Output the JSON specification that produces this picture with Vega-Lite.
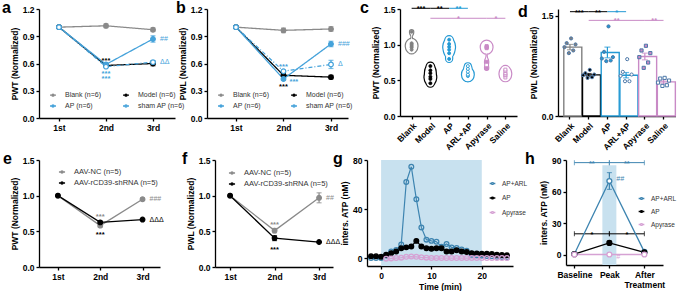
{
"$schema": "https://vega.github.io/schema/vega-lite/v6.json",
"padding": {"left": 2, "top": 0, "right": 0, "bottom": 0},
"background": "white",
"config": {
  "font": "Liberation Sans",
  "view": {"stroke": null},
  "axis": {"grid": false, "domainColor": "#000", "domainWidth": 1.3, "tickColor": "#000", "tickWidth": 1.3, "tickSize": 3, "labelFont": "Liberation Sans", "labelFontSize": 8.5, "labelFontWeight": "bold", "labelColor": "#000", "labelPadding": 2, "titleFont": "Liberation Sans", "titleFontSize": 8.5, "titleFontWeight": "bold", "titleColor": "#000", "titlePadding": 3, "labelOverlap": false, "labelFlush": false},
  "title": {"font": "Liberation Sans", "fontSize": 16, "fontWeight": "bold", "anchor": "start", "frame": "group", "color": "#000", "offset": -11},
  "legend": {"labelFont": "Liberation Sans", "labelFontSize": 7, "labelColor": "#333", "padding": 0, "rowPadding": 0, "symbolStrokeWidth": 1.3, "labelOffset": 3},
  "text": {"font": "Liberation Sans"}
},
"datasets": {
  "a": [
    {"g":"Blank","t":"1st","v":1.0},{"g":"Blank","t":"2nd","v":1.015,"lo":0.995,"hi":1.035},{"g":"Blank","t":"3rd","v":0.972,"lo":0.952,"hi":0.992},
    {"g":"Model","t":"1st","v":1.0},{"g":"Model","t":"2nd","v":0.578,"lo":0.565,"hi":0.591},{"g":"Model","t":"3rd","v":0.6,"lo":0.575,"hi":0.625},
    {"g":"AP","t":"1st","v":1.0},{"g":"AP","t":"2nd","v":0.59,"lo":0.578,"hi":0.602},{"g":"AP","t":"3rd","v":0.87,"lo":0.835,"hi":0.905},
    {"g":"sham AP","t":"1st","v":1.0},{"g":"sham AP","t":"2nd","v":0.565},{"g":"sham AP","t":"3rd","v":0.615,"lo":0.6,"hi":0.63}
  ],
  "a_s": [{"g":"Model","t":"2nd","v":0.655,"s":"***"},{"g":"AP","t":"2nd","v":0.505,"s":"***"},{"g":"AP","t":"2nd","v":0.45,"s":"***"}],
  "a_r": [{"g":"AP","t":"3rd","v":0.87,"s":"##"},{"g":"sham AP","t":"3rd","v":0.615,"s":"ΔΔ"}],
  "b": [
    {"g":"Blank","t":"1st","v":1.0},{"g":"Blank","t":"2nd","v":0.965,"lo":0.94,"hi":0.99},{"g":"Blank","t":"3rd","v":0.98,"lo":0.955,"hi":1.005},
    {"g":"Model","t":"1st","v":1.0},{"g":"Model","t":"2nd","v":0.47,"lo":0.455,"hi":0.485},{"g":"Model","t":"3rd","v":0.45,"lo":0.43,"hi":0.47},
    {"g":"AP","t":"1st","v":1.0},{"g":"AP","t":"2nd","v":0.43,"lo":0.415,"hi":0.445},{"g":"AP","t":"3rd","v":0.815,"lo":0.785,"hi":0.845},
    {"g":"sham AP","t":"1st","v":1.0},{"g":"sham AP","t":"2nd","v":0.515,"lo":0.5,"hi":0.53},{"g":"sham AP","t":"3rd","v":0.59,"lo":0.545,"hi":0.635}
  ],
  "b_s": [{"g":"AP","t":"2nd","v":0.585,"s":"***"},{"g":"Model","t":"2nd","v":0.36,"s":"***"}],
  "b_sr": [{"g":"AP","t":"2nd","v":0.415,"s":"***"}],
  "b_r": [{"g":"AP","t":"3rd","v":0.815,"s":"###"},{"g":"sham AP","t":"3rd","v":0.59,"s":"Δ"}],
  "c": [
    {"g":"Blank","v":0.93},{"g":"Blank","v":0.96},{"g":"Blank","v":0.98},{"g":"Blank","v":1.0},{"g":"Blank","v":1.02},{"g":"Blank","v":1.18},
    {"g":"Model","v":0.46},{"g":"Model","v":0.52},{"g":"Model","v":0.55},{"g":"Model","v":0.6},{"g":"Model","v":0.64},{"g":"Model","v":0.7},
    {"g":"AP","v":0.8},{"g":"AP","v":0.88},{"g":"AP","v":0.93},{"g":"AP","v":0.97},{"g":"AP","v":1.01},{"g":"AP","v":1.07},
    {"g":"ARL+AP","v":0.56},{"g":"ARL+AP","v":0.57},{"g":"ARL+AP","v":0.58},{"g":"ARL+AP","v":0.62},{"g":"ARL+AP","v":0.66},{"g":"ARL+AP","v":0.7},
    {"g":"Apyrase","v":0.67},{"g":"Apyrase","v":0.76},{"g":"Apyrase","v":0.95},{"g":"Apyrase","v":0.96},{"g":"Apyrase","v":0.97},{"g":"Apyrase","v":0.98},
    {"g":"Saline","v":0.54},{"g":"Saline","v":0.57},{"g":"Saline","v":0.58},{"g":"Saline","v":0.6},{"g":"Saline","v":0.63},{"g":"Saline","v":0.65}
  ],
  "c_br": [
    {"a":"Blank","b":"Model","m":"Blank","y":1.51,"s":"***","ref":"Model"},
    {"a":"Model","b":"AP","m":"Model","y":1.51,"s":"**","ref":"Model"},
    {"a":"AP","b":"ARL+AP","m":"AP","y":1.51,"s":"**","ref":"AP"},
    {"a":"Model","b":"Apyrase","m":"AP","y":1.37,"s":"*","ref":"Apyrase"},
    {"a":"Apyrase","b":"Saline","m":"Apyrase","y":1.37,"s":"*","ref":"Apyrase"}
  ],
  "d_bar": [
    {"g":"Blank","m":1.03,"lo":0.99,"hi":1.07},{"g":"Model","m":0.615,"lo":0.595,"hi":0.635},{"g":"AP","m":0.95,"lo":0.87,"hi":1.03},
    {"g":"ARL+AP","m":0.61,"lo":0.57,"hi":0.65},{"g":"Apyrase","m":0.89,"lo":0.84,"hi":0.94},{"g":"Saline","m":0.51,"lo":0.48,"hi":0.54}
  ],
  "d_pts": [
    {"g":"Blank","r":"r1","v":1.16},{"g":"Blank","r":"r2","v":1.09},{"g":"Blank","r":"r3","v":1.07},{"g":"Blank","r":"r4","v":1.03},{"g":"Blank","r":"r5","v":0.98},{"g":"Blank","r":"r6","v":0.94},
    {"g":"Model","r":"r1","v":0.69},{"g":"Model","r":"r2","v":0.64},{"g":"Model","r":"r3","v":0.62},{"g":"Model","r":"r4","v":0.61},{"g":"Model","r":"r5","v":0.58},{"g":"Model","r":"r6","v":0.57},
    {"g":"AP","r":"r1","v":1.34},{"g":"AP","r":"r2","v":0.96},{"g":"AP","r":"r3","v":0.88},{"g":"AP","r":"r4","v":0.86},{"g":"AP","r":"r5","v":0.83},{"g":"AP","r":"r6","v":0.82},
    {"g":"ARL+AP","r":"r1","v":0.85},{"g":"ARL+AP","r":"r2","v":0.66},{"g":"ARL+AP","r":"r3","v":0.62},{"g":"ARL+AP","r":"r4","v":0.6},{"g":"ARL+AP","r":"r5","v":0.52},{"g":"ARL+AP","r":"r6","v":0.52},
    {"g":"Apyrase","r":"r1","v":1.05},{"g":"Apyrase","r":"r2","v":0.98},{"g":"Apyrase","r":"r3","v":0.94},{"g":"Apyrase","r":"r4","v":0.88},{"g":"Apyrase","r":"r5","v":0.8},{"g":"Apyrase","r":"r6","v":0.72},
    {"g":"Saline","r":"r1","v":0.57},{"g":"Saline","r":"r2","v":0.56},{"g":"Saline","r":"r3","v":0.53},{"g":"Saline","r":"r4","v":0.5},{"g":"Saline","r":"r5","v":0.46},{"g":"Saline","r":"r6","v":0.45}
  ],
  "d_br": [
    {"a":"Blank","b":"Model","m":"Blank","y":1.56,"s":"***","ref":"Model"},
    {"a":"Model","b":"AP","m":"Model","y":1.56,"s":"**","ref":"Model"},
    {"a":"AP","b":"ARL+AP","m":"AP","y":1.56,"s":"*","ref":"AP"},
    {"a":"Model","b":"Apyrase","m":"AP","y":1.43,"s":"**","ref":"Apyrase"},
    {"a":"Apyrase","b":"Saline","m":"Apyrase","y":1.43,"s":"**","ref":"Apyrase"}
  ],
  "e": [
    {"g":"AAV-NC","t":"1st","v":1.0},{"g":"AAV-NC","t":"2nd","v":0.58,"lo":0.56,"hi":0.6},{"g":"AAV-NC","t":"3rd","v":0.95,"lo":0.93,"hi":0.97},
    {"g":"AAV-rCD39-shRNA","t":"1st","v":1.0},{"g":"AAV-rCD39-shRNA","t":"2nd","v":0.625,"lo":0.61,"hi":0.64},{"g":"AAV-rCD39-shRNA","t":"3rd","v":0.665}
  ],
  "e_s": [{"g":"AAV-NC","t":"2nd","v":0.725,"s":"***"},{"g":"AAV-rCD39-shRNA","t":"2nd","v":0.47,"s":"***"}],
  "e_r": [{"g":"AAV-NC","t":"3rd","v":0.95,"s":"###"},{"g":"AAV-rCD39-shRNA","t":"3rd","v":0.665,"s":"ΔΔΔ"}],
  "f": [
    {"g":"AAV-NC","t":"1st","v":1.0},{"g":"AAV-NC","t":"2nd","v":0.51,"lo":0.48,"hi":0.54},{"g":"AAV-NC","t":"3rd","v":0.97,"lo":0.9,"hi":1.04},
    {"g":"AAV-rCD39-shRNA","t":"1st","v":1.0},{"g":"AAV-rCD39-shRNA","t":"2nd","v":0.405,"lo":0.37,"hi":0.44},{"g":"AAV-rCD39-shRNA","t":"3rd","v":0.35}
  ],
  "f_s": [{"g":"AAV-NC","t":"2nd","v":0.62,"s":"***"},{"g":"AAV-rCD39-shRNA","t":"2nd","v":0.26,"s":"***"}],
  "f_r": [{"g":"AAV-NC","t":"3rd","v":0.97,"s":"##"},{"g":"AAV-rCD39-shRNA","t":"3rd","v":0.35,"s":"ΔΔΔ"}],
  "g_shade": [{"t0":0,"t1":20,"y0":-6.5,"y1":80}],
  "g": [
    {"g":"AP+ARL","t":-2,"v":0},{"g":"AP+ARL","t":-1,"v":0},{"g":"AP+ARL","t":0,"v":0},{"g":"AP+ARL","t":1,"v":2},{"g":"AP+ARL","t":2,"v":5.4},{"g":"AP+ARL","t":3,"v":6.5},{"g":"AP+ARL","t":4,"v":11},{"g":"AP+ARL","t":5,"v":62},{"g":"AP+ARL","t":6,"v":74.5},{"g":"AP+ARL","t":7,"v":48},{"g":"AP+ARL","t":8,"v":25},{"g":"AP+ARL","t":9,"v":15},{"g":"AP+ARL","t":10,"v":14},{"g":"AP+ARL","t":11,"v":13.3},{"g":"AP+ARL","t":12,"v":9.3},{"g":"AP+ARL","t":13,"v":11.4},{"g":"AP+ARL","t":14,"v":8.7},{"g":"AP+ARL","t":15,"v":8.2},{"g":"AP+ARL","t":16,"v":7},{"g":"AP+ARL","t":17,"v":6},{"g":"AP+ARL","t":18,"v":2.7},{"g":"AP+ARL","t":19,"v":2.2},{"g":"AP+ARL","t":20,"v":2},{"g":"AP+ARL","t":21,"v":1.6},{"g":"AP+ARL","t":22,"v":1.4},{"g":"AP+ARL","t":23,"v":1},{"g":"AP+ARL","t":24,"v":0.8},{"g":"AP+ARL","t":25,"v":0.5},
    {"g":"AP","t":-2,"v":1.4},{"g":"AP","t":-1,"v":1.4},{"g":"AP","t":0,"v":1},{"g":"AP","t":1,"v":2.7},{"g":"AP","t":2,"v":4},{"g":"AP","t":3,"v":5.4},{"g":"AP","t":4,"v":8},{"g":"AP","t":5,"v":8.7},{"g":"AP","t":6,"v":9.5},{"g":"AP","t":7,"v":14},{"g":"AP","t":8,"v":9.5},{"g":"AP","t":9,"v":8},{"g":"AP","t":10,"v":7.6},{"g":"AP","t":11,"v":7.9},{"g":"AP","t":12,"v":8},{"g":"AP","t":13,"v":5.4},{"g":"AP","t":14,"v":5.4},{"g":"AP","t":15,"v":6.3},{"g":"AP","t":16,"v":5.4},{"g":"AP","t":17,"v":4.9},{"g":"AP","t":18,"v":4},{"g":"AP","t":19,"v":3.8},{"g":"AP","t":20,"v":3.5},{"g":"AP","t":21,"v":3.5},{"g":"AP","t":22,"v":3.3},{"g":"AP","t":23,"v":2.7},{"g":"AP","t":24,"v":2.5},{"g":"AP","t":25,"v":2.2},
    {"g":"Apyrase","t":1,"v":-0.5},{"g":"Apyrase","t":2,"v":-0.3},{"g":"Apyrase","t":3,"v":0},{"g":"Apyrase","t":4,"v":0.3},{"g":"Apyrase","t":5,"v":1},{"g":"Apyrase","t":6,"v":1.2},{"g":"Apyrase","t":7,"v":1},{"g":"Apyrase","t":8,"v":0.6},{"g":"Apyrase","t":9,"v":0.3},{"g":"Apyrase","t":10,"v":0},{"g":"Apyrase","t":11,"v":0},{"g":"Apyrase","t":12,"v":0},{"g":"Apyrase","t":13,"v":0},{"g":"Apyrase","t":14,"v":0},{"g":"Apyrase","t":15,"v":0},{"g":"Apyrase","t":16,"v":0},{"g":"Apyrase","t":17,"v":0},{"g":"Apyrase","t":18,"v":0},{"g":"Apyrase","t":19,"v":0},{"g":"Apyrase","t":20,"v":0},{"g":"Apyrase","t":21,"v":0},{"g":"Apyrase","t":22,"v":0},{"g":"Apyrase","t":23,"v":0},{"g":"Apyrase","t":24,"v":0},{"g":"Apyrase","t":25,"v":0}
  ],
  "h": [
    {"g":"AP+ARL","x":"Baseline","k":1,"v":0.5},{"g":"AP+ARL","x":"Peak","k":2,"v":70,"lo":62,"hi":78},{"g":"AP+ARL","x":"After Treatment","k":3,"v":2.5,"lo":1.5,"hi":3.5},
    {"g":"AP","x":"Baseline","k":1,"v":0.3},{"g":"AP","x":"Peak","k":2,"v":11,"lo":9.3,"hi":12.7},{"g":"AP","x":"After Treatment","k":3,"v":2},
    {"g":"Apyrase","x":"Baseline","k":1,"v":0},{"g":"Apyrase","x":"Peak","k":2,"v":0},{"g":"Apyrase","x":"After Treatment","k":3,"v":0}
  ],
  "h_shade": [{"x":"Peak","lo":-10,"hi":85}],
  "h_br": [
    {"a":"Baseline","b":"Peak","m":"Baseline","y":87.5,"s":"**","g":"AP+ARL"},
    {"a":"Peak","b":"After Treatment","m":"Peak","y":87.5,"s":"**","g":"AP+ARL"},
    {"a":"Baseline","b":"Peak","m":"Baseline","y":19.7,"s":"*","g":"AP"},
    {"a":"Peak","b":"After Treatment","m":"Peak","y":19.7,"s":"*","g":"AP"}
  ],
  "h_r": [{"g":"AP+ARL","x":"Peak","v":72,"s":"##"},{"g":"Apyrase","x":"Peak","v":-2,"s":"#"}],
  "empty": []
},
"spacing": -1,
"resolve": {"scale": {"color": "independent", "fill": "independent", "stroke": "independent", "shape": "independent", "strokeDash": "independent", "size": "independent", "xOffset": "independent"}},
"vconcat": [
 {"bounds": "flush", "spacing": 0,
  "resolve": {"scale": {"color": "independent", "fill": "independent", "stroke": "independent", "shape": "independent", "strokeDash": "independent", "size": "independent", "xOffset": "independent"}},
  "hconcat": [
   {
    "width": 136, "height": 109,
    "title": {"text": "a", "dx": -37},
    "encoding": {
      "x": {"field": "t", "type": "nominal", "scale": {"type": "point", "padding": 0.447, "align": 0.476}, "axis": {"title": null, "labelAngle": 0}},
      "y": {"field": "v", "type": "quantitative", "scale": {"domain": [0, 1.2]}, "axis": {"values": [0, 0.3, 0.6, 0.9, 1.2], "format": ".1f"}, "title": "PWT (Normalized)"}
    },
    "layer": [
      {"data": {"name": "a"}, "mark": {"type": "line", "strokeWidth": 1.3},
       "encoding": {"color": {"field": "g", "type": "nominal", "scale": {"domain": ["Model","Blank","AP","sham AP"], "range": ["#000000","#8a8a8a","#45a2da","#45a2da"]}, "legend": null},
                    "strokeDash": {"field": "g", "type": "nominal", "scale": {"domain": ["sham AP","Blank","Model","AP"], "range": [[4,2,1,2],[1,0],[1,0],[1,0]]}, "legend": null}}},
      {"data": {"name": "a"}, "transform": [{"filter": "isValid(datum.lo)"}], "mark": {"type": "errorbar", "ticks": {"size": 5}, "thickness": 1.2},
       "encoding": {"y": {"field": "lo", "type": "quantitative", "title": "PWT (Normalized)"}, "y2": {"field": "hi"}, "color": {"field": "g", "type": "nominal", "legend": null}}},
      {"data": {"name": "a"}, "mark": {"type": "point", "size": 22, "strokeWidth": 1.2, "opacity": 1},
       "encoding": {
         "stroke": {"field": "g", "type": "nominal", "scale": {"domain": ["Blank","AP","Model","sham AP"], "range": ["#8a8a8a","#45a2da","#000000","#45a2da"]}, "legend": {"title": null, "orient": "none", "legendX": 7, "legendY": 79, "columns": 2, "columnPadding": 18, "labelOffset": 5, "symbolType": "M-0.5,0H-0.17M0.17,0H0.5M0.17,0A0.17,0.17,0,1,1,-0.17,0A0.17,0.17,0,1,1,0.17,0Z", "symbolSize": 145, "labelExpr": "datum.label + ' (n=6)'"}},
         "fill": {"field": "g", "type": "nominal", "scale": {"domain": ["Blank","AP","Model","sham AP"], "range": ["#8a8a8a","#45a2da","#000000","#ffffff"]}, "legend": {"title": null, "orient": "none", "legendX": 7, "legendY": 79, "columns": 2, "columnPadding": 18, "labelOffset": 5, "symbolType": "M-0.5,0H-0.17M0.17,0H0.5M0.17,0A0.17,0.17,0,1,1,-0.17,0A0.17,0.17,0,1,1,0.17,0Z", "symbolSize": 145, "labelExpr": "datum.label + ' (n=6)'"}}}},
      {"data": {"name": "a_s"}, "mark": {"type": "text", "fontSize": 7.5, "fontWeight": "bold", "baseline": "alphabetic", "dy": 4},
       "encoding": {"text": {"field": "s"}, "color": {"field": "g", "type": "nominal", "legend": null}}},
      {"data": {"name": "a_r"}, "mark": {"type": "text", "fontSize": 7, "align": "left", "dx": 7, "baseline": "middle"},
       "encoding": {"text": {"field": "s"}, "color": {"field": "g", "type": "nominal", "legend": null}}}
    ]
   },
   {"width": 32, "height": 10, "data": {"name": "empty"}, "mark": "point"},
   {
    "width": 141, "height": 109,
    "title": {"text": "b", "dx": -31},
    "encoding": {
      "x": {"field": "t", "type": "nominal", "scale": {"type": "point", "padding": 0.484, "align": 0.63}, "axis": {"title": null, "labelAngle": 0}},
      "y": {"field": "v", "type": "quantitative", "scale": {"domain": [0, 1.2]}, "axis": {"values": [0, 0.3, 0.6, 0.9, 1.2], "format": ".1f"}, "title": "PWL (Normalized)"}
    },
    "layer": [
      {"data": {"name": "b"}, "mark": {"type": "line", "strokeWidth": 1.3},
       "encoding": {"color": {"field": "g", "type": "nominal", "scale": {"domain": ["Model","Blank","AP","sham AP"], "range": ["#000000","#8a8a8a","#45a2da","#45a2da"]}, "legend": null},
                    "strokeDash": {"field": "g", "type": "nominal", "scale": {"domain": ["sham AP","Blank","Model","AP"], "range": [[4,2,1,2],[1,0],[1,0],[1,0]]}, "legend": null}}},
      {"data": {"name": "b"}, "transform": [{"filter": "isValid(datum.lo)"}], "mark": {"type": "errorbar", "ticks": {"size": 5}, "thickness": 1.2},
       "encoding": {"y": {"field": "lo", "type": "quantitative", "title": "PWL (Normalized)"}, "y2": {"field": "hi"}, "color": {"field": "g", "type": "nominal", "legend": null}}},
      {"data": {"name": "b"}, "mark": {"type": "point", "size": 22, "strokeWidth": 1.2, "opacity": 1},
       "encoding": {
         "stroke": {"field": "g", "type": "nominal", "scale": {"domain": ["Blank","AP","Model","sham AP"], "range": ["#8a8a8a","#45a2da","#000000","#45a2da"]}, "legend": {"title": null, "orient": "none", "legendX": 7, "legendY": 79, "columns": 2, "columnPadding": 18, "labelOffset": 5, "symbolType": "M-0.5,0H-0.17M0.17,0H0.5M0.17,0A0.17,0.17,0,1,1,-0.17,0A0.17,0.17,0,1,1,0.17,0Z", "symbolSize": 145, "labelExpr": "datum.label + ' (n=6)'"}},
         "fill": {"field": "g", "type": "nominal", "scale": {"domain": ["Blank","AP","Model","sham AP"], "range": ["#8a8a8a","#45a2da","#000000","#ffffff"]}, "legend": {"title": null, "orient": "none", "legendX": 7, "legendY": 79, "columns": 2, "columnPadding": 18, "labelOffset": 5, "symbolType": "M-0.5,0H-0.17M0.17,0H0.5M0.17,0A0.17,0.17,0,1,1,-0.17,0A0.17,0.17,0,1,1,0.17,0Z", "symbolSize": 145, "labelExpr": "datum.label + ' (n=6)'"}}}},
      {"data": {"name": "b_s"}, "mark": {"type": "text", "fontSize": 7.5, "fontWeight": "bold", "baseline": "alphabetic", "dy": 4},
       "encoding": {"text": {"field": "s"}, "color": {"field": "g", "type": "nominal", "legend": null}}},
      {"data": {"name": "b_sr"}, "mark": {"type": "text", "fontSize": 7.5, "fontWeight": "bold", "baseline": "alphabetic", "dy": 4, "align": "left", "dx": 6},
       "encoding": {"text": {"field": "s"}, "color": {"field": "g", "type": "nominal", "legend": null}}},
      {"data": {"name": "b_r"}, "mark": {"type": "text", "fontSize": 7, "align": "left", "dx": 7, "baseline": "middle"},
       "encoding": {"text": {"field": "s"}, "color": {"field": "g", "type": "nominal", "legend": null}}}
    ]
   },
   {"width": 52, "height": 10, "data": {"name": "empty"}, "mark": "point"},
   {
    "width": 117, "height": 107,
    "title": {"text": "c", "dx": -40},
    "encoding": {
      "x": {"field": "g", "type": "nominal", "scale": {"type": "point", "padding": 0.62, "domain": ["Blank","Model","AP","ARL+AP","Apyrase","Saline"]}, "axis": {"title": null, "labelAngle": -45}},
      "y": {"field": "v", "type": "quantitative", "scale": {"domain": [0, 1.5]}, "axis": {"values": [0, 0.5, 1, 1.5], "format": ".1f"}, "title": "PWT (Normalized)"}
    },
    "resolve": {"scale": {"size": "independent"}},
    "layer": [
      {"data": {"name": "c"}, "transform": [{"filter": "datum.g == 'Blank'"}, {"density": "v", "groupby": ["g"], "bandwidth": 0.035, "as": ["v", "d"]}], "mark": {"type": "trail", "color": "#808080"}, "encoding": {"order": {"field": "v", "type": "quantitative"}, "size": {"field": "d", "type": "quantitative", "scale": {"range": [2.2, 14]}, "legend": null}}},
      {"data": {"name": "c"}, "transform": [{"filter": "datum.g == 'Blank'"}, {"density": "v", "groupby": ["g"], "bandwidth": 0.035, "as": ["v", "d"]}], "mark": {"type": "trail", "color": "#ffffff"}, "encoding": {"order": {"field": "v", "type": "quantitative"}, "size": {"field": "d", "type": "quantitative", "scale": {"range": [0, 11.6]}, "legend": null}}},
      {"data": {"name": "c"}, "transform": [{"filter": "datum.g == 'Model'"}, {"density": "v", "groupby": ["g"], "bandwidth": 0.035, "as": ["v", "d"]}], "mark": {"type": "trail", "color": "#000000"}, "encoding": {"order": {"field": "v", "type": "quantitative"}, "size": {"field": "d", "type": "quantitative", "scale": {"range": [2.2, 14]}, "legend": null}}},
      {"data": {"name": "c"}, "transform": [{"filter": "datum.g == 'Model'"}, {"density": "v", "groupby": ["g"], "bandwidth": 0.035, "as": ["v", "d"]}], "mark": {"type": "trail", "color": "#ffffff"}, "encoding": {"order": {"field": "v", "type": "quantitative"}, "size": {"field": "d", "type": "quantitative", "scale": {"range": [0, 11.6]}, "legend": null}}},
      {"data": {"name": "c"}, "transform": [{"filter": "datum.g == 'AP'"}, {"density": "v", "groupby": ["g"], "bandwidth": 0.035, "as": ["v", "d"]}], "mark": {"type": "trail", "color": "#2399d4"}, "encoding": {"order": {"field": "v", "type": "quantitative"}, "size": {"field": "d", "type": "quantitative", "scale": {"range": [2.2, 14]}, "legend": null}}},
      {"data": {"name": "c"}, "transform": [{"filter": "datum.g == 'AP'"}, {"density": "v", "groupby": ["g"], "bandwidth": 0.035, "as": ["v", "d"]}], "mark": {"type": "trail", "color": "#ffffff"}, "encoding": {"order": {"field": "v", "type": "quantitative"}, "size": {"field": "d", "type": "quantitative", "scale": {"range": [0, 11.6]}, "legend": null}}},
      {"data": {"name": "c"}, "transform": [{"filter": "datum.g == 'ARL+AP'"}, {"density": "v", "groupby": ["g"], "bandwidth": 0.035, "as": ["v", "d"]}], "mark": {"type": "trail", "color": "#2399d4"}, "encoding": {"order": {"field": "v", "type": "quantitative"}, "size": {"field": "d", "type": "quantitative", "scale": {"range": [2.2, 14]}, "legend": null}}},
      {"data": {"name": "c"}, "transform": [{"filter": "datum.g == 'ARL+AP'"}, {"density": "v", "groupby": ["g"], "bandwidth": 0.035, "as": ["v", "d"]}], "mark": {"type": "trail", "color": "#ffffff"}, "encoding": {"order": {"field": "v", "type": "quantitative"}, "size": {"field": "d", "type": "quantitative", "scale": {"range": [0, 11.6]}, "legend": null}}},
      {"data": {"name": "c"}, "transform": [{"filter": "datum.g == 'Apyrase'"}, {"density": "v", "groupby": ["g"], "bandwidth": 0.035, "as": ["v", "d"]}], "mark": {"type": "trail", "color": "#c98ac6"}, "encoding": {"order": {"field": "v", "type": "quantitative"}, "size": {"field": "d", "type": "quantitative", "scale": {"range": [2.2, 14]}, "legend": null}}},
      {"data": {"name": "c"}, "transform": [{"filter": "datum.g == 'Apyrase'"}, {"density": "v", "groupby": ["g"], "bandwidth": 0.035, "as": ["v", "d"]}], "mark": {"type": "trail", "color": "#ffffff"}, "encoding": {"order": {"field": "v", "type": "quantitative"}, "size": {"field": "d", "type": "quantitative", "scale": {"range": [0, 11.6]}, "legend": null}}},
      {"data": {"name": "c"}, "transform": [{"filter": "datum.g == 'Saline'"}, {"density": "v", "groupby": ["g"], "bandwidth": 0.035, "as": ["v", "d"]}], "mark": {"type": "trail", "color": "#c98ac6"}, "encoding": {"order": {"field": "v", "type": "quantitative"}, "size": {"field": "d", "type": "quantitative", "scale": {"range": [2.2, 14]}, "legend": null}}},
      {"data": {"name": "c"}, "transform": [{"filter": "datum.g == 'Saline'"}, {"density": "v", "groupby": ["g"], "bandwidth": 0.035, "as": ["v", "d"]}], "mark": {"type": "trail", "color": "#ffffff"}, "encoding": {"order": {"field": "v", "type": "quantitative"}, "size": {"field": "d", "type": "quantitative", "scale": {"range": [0, 11.6]}, "legend": null}}},
      {"data": {"name": "c"}, "mark": {"type": "point", "size": 9, "strokeWidth": 0.9, "opacity": 1},
       "encoding": {
         "shape": {"field": "g", "type": "nominal", "scale": {"domain": ["Blank","Model","AP","ARL+AP","Apyrase","Saline"], "range": ["circle","circle","circle","circle","square","square"]}, "legend": null},
         "stroke": {"field": "g", "type": "nominal", "scale": {"domain": ["Blank","Model","AP","ARL+AP","Apyrase","Saline"], "range": ["#808080","#000000","#2399d4","#2399d4","#c98ac6","#c98ac6"]}, "legend": null},
         "fill": {"field": "g", "type": "nominal", "scale": {"domain": ["Blank","Model","AP","ARL+AP","Apyrase","Saline"], "range": ["#808080","#000000","#2399d4","#ffffff","#c98ac6","#ffffff"]}, "legend": null}}},
      {"data": {"name": "c_br"}, "mark": {"type": "rule", "strokeWidth": 1},
       "encoding": {"x": {"field": "a", "type": "nominal"}, "x2": {"field": "b"}, "y": {"field": "y", "type": "quantitative", "title": "PWT (Normalized)"},
                    "color": {"field": "ref", "type": "nominal", "scale": {"domain": ["Blank","Model","AP","ARL+AP","Apyrase","Saline"], "range": ["#808080","#000000","#2399d4","#2399d4","#c98ac6","#c98ac6"]}, "legend": null}}},
      {"data": {"name": "c_br"}, "mark": {"type": "text", "fontSize": 7.5, "fontWeight": "bold", "baseline": "alphabetic", "dy": 3, "dx": 9.4},
       "encoding": {"x": {"field": "m", "type": "nominal"}, "y": {"field": "y", "type": "quantitative", "title": "PWT (Normalized)"}, "text": {"field": "s"}, "color": {"field": "ref", "type": "nominal", "legend": null}}}
    ]
   },
   {"width": 41, "height": 10, "data": {"name": "empty"}, "mark": "point"},
   {
    "width": 117.5, "height": 107,
    "title": {"text": "d", "dx": -40},
    "encoding": {
      "x": {"field": "g", "type": "nominal", "scale": {"type": "band", "paddingInner": 0.34, "paddingOuter": 0.31, "domain": ["Blank","Model","AP","ARL+AP","Apyrase","Saline"]}, "axis": {"title": null, "labelAngle": -45}}
    },
    "layer": [
      {"data": {"name": "d_bar"}, "mark": {"type": "bar", "fill": "#ffffff", "strokeWidth": 1.4},
       "encoding": {"y": {"field": "m", "type": "quantitative", "scale": {"domain": [0, 1.5]}, "axis": {"values": [0, 0.5, 1, 1.5], "format": ".1f"}, "title": "PWL (Normalized)"},
                    "stroke": {"field": "g", "type": "nominal", "scale": {"domain": ["Blank","Model","AP","ARL+AP","Apyrase","Saline"], "range": ["#808080","#000000","#2399d4","#2399d4","#c98ac6","#c98ac6"]}, "legend": null}}},
      {"data": {"name": "d_bar"}, "mark": {"type": "errorbar", "ticks": {"size": 6}, "thickness": 1.2},
       "encoding": {"y": {"field": "lo", "type": "quantitative", "title": "PWL (Normalized)"}, "y2": {"field": "hi"},
                    "color": {"field": "g", "type": "nominal", "scale": {"domain": ["Blank","Model","AP","ARL+AP","Apyrase","Saline"], "range": ["#808080","#000000","#2399d4","#2399d4","#c98ac6","#c98ac6"]}, "legend": null}}},
      {"data": {"name": "d_pts"}, "mark": {"type": "point", "size": 10, "strokeWidth": 1, "opacity": 1},
       "encoding": {
         "xOffset": {"field": "r", "type": "nominal", "scale": {"domain": ["r4","r2","r6","r1","r5","r3"], "paddingOuter": 0.3}},
         "y": {"field": "v", "type": "quantitative", "title": "PWL (Normalized)"},
         "shape": {"field": "g", "type": "nominal", "scale": {"domain": ["Blank","Model","AP","ARL+AP","Apyrase","Saline"], "range": ["circle","circle","circle","circle","square","square"]}, "legend": null},
         "fill": {"field": "g", "type": "nominal", "scale": {"domain": ["Blank","Model","AP","ARL+AP","Apyrase","Saline"], "range": ["#808080","#000000","#2399d4","#ffffff","#c98ac6","#ffffff"]}, "legend": null}}},
      {"data": {"name": "d_br"}, "mark": {"type": "rule", "strokeWidth": 1},
       "encoding": {"x": {"field": "a", "type": "nominal"}, "x2": {"field": "b"}, "y": {"field": "y", "type": "quantitative", "title": "PWL (Normalized)"},
                    "color": {"field": "ref", "type": "nominal", "legend": null}}},
      {"data": {"name": "d_br"}, "mark": {"type": "text", "fontSize": 7.5, "fontWeight": "bold", "baseline": "alphabetic", "dy": 3, "dx": 9.35},
       "encoding": {"x": {"field": "m", "type": "nominal"}, "y": {"field": "y", "type": "quantitative", "title": "PWL (Normalized)"}, "text": {"field": "s"}, "color": {"field": "ref", "type": "nominal", "legend": null}}}
    ]
   }
  ]
 },
 {"bounds": "flush", "spacing": 0,
  "resolve": {"scale": {"color": "independent", "fill": "independent", "stroke": "independent", "shape": "independent", "strokeDash": "independent", "size": "independent", "xOffset": "independent"}},
  "hconcat": [
   {
    "width": 121, "height": 107,
    "title": {"text": "e", "dx": -36},
    "encoding": {
      "x": {"field": "t", "type": "nominal", "scale": {"type": "point", "padding": 0.43, "align": 0.52}, "axis": {"title": null, "labelAngle": 0}},
      "y": {"field": "v", "type": "quantitative", "scale": {"domain": [0, 1.5]}, "axis": {"values": [0, 0.5, 1, 1.5], "format": ".1f"}, "title": "PWT (Normalized)"}
    },
    "layer": [
      {"data": {"name": "e"}, "mark": {"type": "line", "strokeWidth": 1.3},
       "encoding": {"color": {"field": "g", "type": "nominal", "scale": {"domain": ["AAV-rCD39-shRNA","AAV-NC"], "range": ["#000000","#8a8a8a"]}, "legend": null}}},
      {"data": {"name": "e"}, "transform": [{"filter": "isValid(datum.lo)"}], "mark": {"type": "errorbar", "ticks": {"size": 5}, "thickness": 1.2},
       "encoding": {"y": {"field": "lo", "type": "quantitative", "title": "PWT (Normalized)"}, "y2": {"field": "hi"}, "color": {"field": "g", "type": "nominal", "legend": null}}},
      {"data": {"name": "e"}, "mark": {"type": "point", "size": 22, "strokeWidth": 1.2, "opacity": 1},
       "encoding": {
         "stroke": {"field": "g", "type": "nominal", "scale": {"domain": ["AAV-NC","AAV-rCD39-shRNA"], "range": ["#8a8a8a","#000000"]}, "legend": {"title": null, "orient": "none", "legendX": 16, "legendY": 5, "direction": "vertical", "symbolType": "M-0.5,0H-0.17M0.17,0H0.5M0.17,0A0.17,0.17,0,1,1,-0.17,0A0.17,0.17,0,1,1,0.17,0Z", "symbolSize": 150, "labelFontSize": 7.5, "labelOffset": 5, "labelExpr": "datum.label + ' (n=5)'"}},
         "fill": {"field": "g", "type": "nominal", "scale": {"domain": ["AAV-NC","AAV-rCD39-shRNA"], "range": ["#8a8a8a","#000000"]}, "legend": {"title": null, "orient": "none", "legendX": 16, "legendY": 5, "direction": "vertical", "symbolType": "M-0.5,0H-0.17M0.17,0H0.5M0.17,0A0.17,0.17,0,1,1,-0.17,0A0.17,0.17,0,1,1,0.17,0Z", "symbolSize": 150, "labelFontSize": 7.5, "labelOffset": 5, "labelExpr": "datum.label + ' (n=5)'"}}}},
      {"data": {"name": "e_s"}, "mark": {"type": "text", "fontSize": 7.5, "fontWeight": "bold", "baseline": "alphabetic", "dy": 4},
       "encoding": {"text": {"field": "s"}, "color": {"field": "g", "type": "nominal", "legend": null}}},
      {"data": {"name": "e_r"}, "mark": {"type": "text", "fontSize": 7, "align": "left", "dx": 7, "baseline": "middle"},
       "encoding": {"text": {"field": "s"}, "color": {"field": "g", "type": "nominal", "legend": null}}}
    ]
   },
   {"width": 55, "height": 10, "data": {"name": "empty"}, "mark": "point"},
   {
    "width": 118, "height": 107,
    "title": {"text": "f", "dx": -33},
    "encoding": {
      "x": {"field": "t", "type": "nominal", "scale": {"type": "point", "padding": 0.326, "align": 0.52}, "axis": {"title": null, "labelAngle": 0}},
      "y": {"field": "v", "type": "quantitative", "scale": {"domain": [0, 1.5]}, "axis": {"values": [0, 0.5, 1, 1.5], "format": ".1f"}, "title": "PWL (Normalized)"}
    },
    "layer": [
      {"data": {"name": "f"}, "mark": {"type": "line", "strokeWidth": 1.3},
       "encoding": {"color": {"field": "g", "type": "nominal", "scale": {"domain": ["AAV-rCD39-shRNA","AAV-NC"], "range": ["#000000","#8a8a8a"]}, "legend": null}}},
      {"data": {"name": "f"}, "transform": [{"filter": "isValid(datum.lo)"}], "mark": {"type": "errorbar", "ticks": {"size": 5}, "thickness": 1.2},
       "encoding": {"y": {"field": "lo", "type": "quantitative", "title": "PWL (Normalized)"}, "y2": {"field": "hi"}, "color": {"field": "g", "type": "nominal", "legend": null}}},
      {"data": {"name": "f"}, "mark": {"type": "point", "size": 22, "strokeWidth": 1.2, "opacity": 1},
       "encoding": {
         "stroke": {"field": "g", "type": "nominal", "scale": {"domain": ["AAV-NC","AAV-rCD39-shRNA"], "range": ["#8a8a8a","#000000"]}, "legend": {"title": null, "orient": "none", "legendX": 10, "legendY": 6, "direction": "vertical", "symbolType": "M-0.5,0H-0.17M0.17,0H0.5M0.17,0A0.17,0.17,0,1,1,-0.17,0A0.17,0.17,0,1,1,0.17,0Z", "symbolSize": 150, "labelFontSize": 7.5, "labelOffset": 5, "labelExpr": "datum.label + ' (n=5)'"}},
         "fill": {"field": "g", "type": "nominal", "scale": {"domain": ["AAV-NC","AAV-rCD39-shRNA"], "range": ["#8a8a8a","#000000"]}, "legend": {"title": null, "orient": "none", "legendX": 10, "legendY": 6, "direction": "vertical", "symbolType": "M-0.5,0H-0.17M0.17,0H0.5M0.17,0A0.17,0.17,0,1,1,-0.17,0A0.17,0.17,0,1,1,0.17,0Z", "symbolSize": 150, "labelFontSize": 7.5, "labelOffset": 5, "labelExpr": "datum.label + ' (n=5)'"}}}},
      {"data": {"name": "f_s"}, "mark": {"type": "text", "fontSize": 7.5, "fontWeight": "bold", "baseline": "alphabetic", "dy": 4},
       "encoding": {"text": {"field": "s"}, "color": {"field": "g", "type": "nominal", "legend": null}}},
      {"data": {"name": "f_r"}, "mark": {"type": "text", "fontSize": 7, "align": "left", "dx": 7, "baseline": "middle"},
       "encoding": {"text": {"field": "s"}, "color": {"field": "g", "type": "nominal", "legend": null}}}
    ]
   },
   {"width": 34, "height": 10, "data": {"name": "empty"}, "mark": "point"},
   {
    "width": 146, "height": 106,
    "title": {"text": "g", "dx": -34},
    "layer": [
      {"data": {"name": "g_shade"}, "mark": {"type": "rect", "color": "#c8e1ef"},
       "encoding": {"x": {"field": "t0", "type": "quantitative", "scale": {"domain": [-2.8, 26.2], "nice": false, "zero": false}, "axis": {"values": [0, 5, 10, 15, 20, 25]}, "title": "Time (min)"}, "x2": {"field": "t1"},
                    "y": {"field": "y0", "type": "quantitative", "scale": {"domain": [-6.5, 80], "nice": false, "zero": false}, "axis": {"values": [0, 20, 40, 60, 80]}, "title": "inters. ATP (nM)"}, "y2": {"field": "y1"}}},
      {"data": {"name": "g"}, "mark": {"type": "line", "strokeWidth": 1.2},
       "encoding": {"x": {"field": "t", "type": "quantitative", "title": "Time (min)"}, "y": {"field": "v", "type": "quantitative", "title": "inters. ATP (nM)"},
                    "color": {"field": "g", "type": "nominal", "scale": {"domain": ["AP","AP+ARL","Apyrase"], "range": ["#000000","#3d84b0","#d6a2d4"]}, "legend": null}}},
      {"data": {"name": "g"}, "mark": {"type": "point", "size": 22, "strokeWidth": 1.3, "opacity": 1},
       "encoding": {"x": {"field": "t", "type": "quantitative", "title": "Time (min)"}, "y": {"field": "v", "type": "quantitative", "title": "inters. ATP (nM)"},
         "stroke": {"field": "g", "type": "nominal", "scale": {"domain": ["AP+ARL","AP","Apyrase"], "range": ["#3d84b0","#000000","#d6a2d4"]}, "legend": {"title": null, "orient": "none", "legendX": 119, "legendY": 17, "direction": "vertical", "symbolType": "M-0.5,0H-0.17M0.17,0H0.5M0.17,0A0.17,0.17,0,1,1,-0.17,0A0.17,0.17,0,1,1,0.17,0Z", "symbolSize": 130, "labelFontSize": 6.5, "rowPadding": 3.5}},
         "fill": {"field": "g", "type": "nominal", "scale": {"domain": ["AP+ARL","AP","Apyrase"], "range": ["transparent","#000000","transparent"]}, "legend": {"title": null, "orient": "none", "legendX": 119, "legendY": 17, "direction": "vertical", "symbolType": "M-0.5,0H-0.17M0.17,0H0.5M0.17,0A0.17,0.17,0,1,1,-0.17,0A0.17,0.17,0,1,1,0.17,0Z", "symbolSize": 130, "labelFontSize": 6.5, "rowPadding": 3.5}}}}
    ]
   },
   {"width": 53, "height": 10, "data": {"name": "empty"}, "mark": "point"},
   {
    "width": 97, "height": 105,
    "title": {"text": "h", "dx": -41},
    "encoding": {
      "x": {"field": "x", "type": "nominal", "scale": {"type": "point", "padding": 0.386, "align": 0.31, "domain": ["Baseline","Peak","After Treatment"]}, "axis": {"title": null, "labelAngle": 0, "labelExpr": "datum.value == 'After Treatment' ? ['After', 'Treatment'] : datum.value"}},
      "y": {"field": "v", "type": "quantitative", "scale": {"domain": [-10, 90], "nice": false, "zero": false}, "axis": {"values": [0, 30, 60, 90]}, "title": "inters. ATP (nM)"}
    },
    "layer": [
      {"data": {"name": "h_shade"}, "mark": {"type": "bar", "size": 14, "color": "#c8e1ef"},
       "encoding": {"y": {"field": "lo", "type": "quantitative", "title": "inters. ATP (nM)"}, "y2": {"field": "hi"}}},
      {"data": {"name": "h_br"}, "mark": {"type": "rule", "strokeWidth": 1},
       "encoding": {"x": {"field": "a", "type": "nominal"}, "x2": {"field": "b"}, "y": {"field": "y", "type": "quantitative", "title": "inters. ATP (nM)"},
                    "color": {"field": "g", "type": "nominal", "scale": {"domain": ["AP","AP+ARL","Apyrase"], "range": ["#000000","#3d84b0","#d6a2d4"]}, "legend": null}}},
      {"data": {"name": "h_br"}, "mark": {"type": "tick", "orient": "vertical", "size": 5, "thickness": 1},
       "encoding": {"x": {"field": "a", "type": "nominal"}, "y": {"field": "y", "type": "quantitative", "title": "inters. ATP (nM)"}, "color": {"field": "g", "type": "nominal", "legend": null}}},
      {"data": {"name": "h_br"}, "mark": {"type": "tick", "orient": "vertical", "size": 5, "thickness": 1},
       "encoding": {"x": {"field": "b", "type": "nominal"}, "y": {"field": "y", "type": "quantitative", "title": "inters. ATP (nM)"}, "color": {"field": "g", "type": "nominal", "legend": null}}},
      {"data": {"name": "h_br"}, "mark": {"type": "text", "fontSize": 7.5, "fontWeight": "bold", "baseline": "alphabetic", "dy": 3, "dx": 17.5},
       "encoding": {"x": {"field": "m", "type": "nominal"}, "y": {"field": "y", "type": "quantitative", "title": "inters. ATP (nM)"}, "text": {"field": "s"}, "color": {"field": "g", "type": "nominal", "legend": null}}},
      {"data": {"name": "h"}, "mark": {"type": "line", "strokeWidth": 1.3},
       "encoding": {"order": {"field": "k", "type": "quantitative"}, "color": {"field": "g", "type": "nominal", "legend": null}}},
      {"data": {"name": "h"}, "transform": [{"filter": "isValid(datum.lo)"}], "mark": {"type": "errorbar", "ticks": {"size": 5}, "thickness": 1.2},
       "encoding": {"y": {"field": "lo", "type": "quantitative", "title": "inters. ATP (nM)"}, "y2": {"field": "hi"}, "color": {"field": "g", "type": "nominal", "legend": null}}},
      {"data": {"name": "h"}, "mark": {"type": "point", "size": 24, "strokeWidth": 1.3, "opacity": 1},
       "encoding": {
         "stroke": {"field": "g", "type": "nominal", "scale": {"domain": ["AP+ARL","AP","Apyrase"], "range": ["#3d84b0","#000000","#d6a2d4"]}, "legend": {"title": null, "orient": "none", "legendX": 69, "legendY": 32, "direction": "vertical", "symbolType": "M-0.5,0H-0.17M0.17,0H0.5M0.17,0A0.17,0.17,0,1,1,-0.17,0A0.17,0.17,0,1,1,0.17,0Z", "symbolSize": 130, "labelFontSize": 6.5, "rowPadding": 2}},
         "fill": {"field": "g", "type": "nominal", "scale": {"domain": ["AP+ARL","AP","Apyrase"], "range": ["#ffffff","#000000","#ffffff"]}, "legend": {"title": null, "orient": "none", "legendX": 69, "legendY": 32, "direction": "vertical", "symbolType": "M-0.5,0H-0.17M0.17,0H0.5M0.17,0A0.17,0.17,0,1,1,-0.17,0A0.17,0.17,0,1,1,0.17,0Z", "symbolSize": 130, "labelFontSize": 6.5, "rowPadding": 2}}}},
      {"data": {"name": "h_r"}, "mark": {"type": "text", "fontSize": 7, "fontStyle": "italic", "align": "left", "dx": 7, "baseline": "middle"},
       "encoding": {"text": {"field": "s"}, "color": {"field": "g", "type": "nominal", "legend": null}}}
    ]
   }
  ]
 }
]
}
